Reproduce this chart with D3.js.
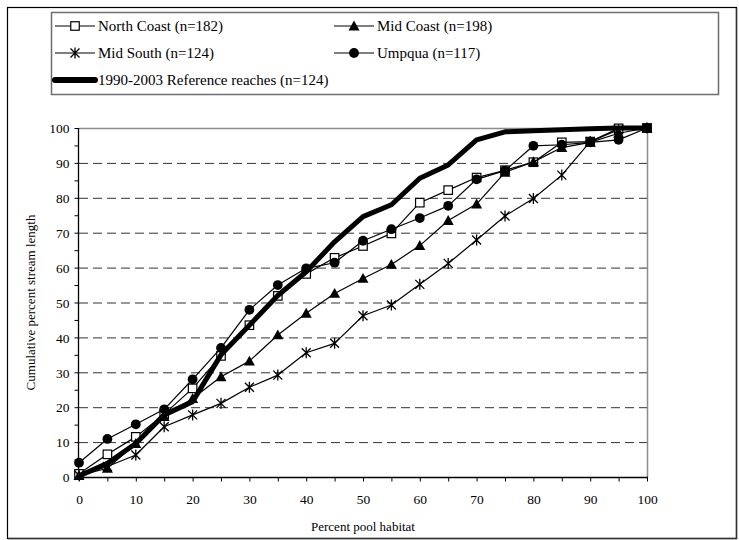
<!DOCTYPE html>
<html>
<head>
<meta charset="utf-8">
<script src="https://cdn.jsdelivr.net/npm/d3@7"></script>
<style>
  html, body { margin: 0; padding: 0; background: #fff; }
  svg { display: block; }
  svg text { font-family: "Liberation Serif", "Times New Roman", serif; fill: #000; }
</style>
</head>
<body>
<svg id="chart" width="739" height="540"></svg>
<script>
// Percent pool habitat (x) sampled every 5 %
const poolPct = [0, 5, 10, 15, 20, 25, 30, 35, 40, 45, 50, 55, 60, 65, 70, 75, 80, 85, 90, 95, 100];

// Cumulative percent stream length for each region
const northCoast = [0.9, 6.5, 11.5, 18, 25.4, 34.7, 43.5, 51.9, 58.2, 62.8, 66.2, 69.8, 78.6, 82.2, 85.8, 87.9, 90.2, 95.9, 96.1, 99.9, 100];
const midCoast   = [0.4, 2.5, 9.6, 17.3, 22.5, 28.7, 33.2, 40.7, 46.9, 52.6, 56.9, 60.9, 66.3, 73.5, 78.2, 87.3, 90.3, 94.4, 95.9, 98.5, 100];
const midSouth   = [0.5, 3, 6.3, 14.4, 17.8, 21.1, 25.7, 29.2, 35.6, 38.3, 46.2, 49.3, 55.2, 61.2, 67.9, 74.8, 79.8, 86.5, 96.1, 99.5, 100];
const umpqua     = [4.1, 10.9, 15.1, 19.4, 28, 37, 47.9, 55, 59.8, 61.4, 67.7, 71, 74.2, 77.7, 85.3, 87.8, 94.9, 95.2, 95.9, 96.6, 100];
const reference  = [0.3, 3.9, 9.6, 17.8, 21.6, 35, 43.5, 52, 58.8, 67.4, 74.6, 78, 85.6, 89.4, 96.6, 98.9, 99.2, 99.5, 99.8, 100, 100];

const seriesNames = ["North Coast (n=182)", "Mid Coast (n=198)", "Mid South (n=124)", "Umpqua (n=117)", "1990-2003 Reference reaches (n=124)"];
const seriesMarkers = ["square", "triangle", "asterisk", "circle", "none"];
const seriesValues = [northCoast, midCoast, midSouth, umpqua, reference];

const xTicks = [0, 10, 20, 30, 40, 50, 60, 70, 80, 90, 100];
const yTicks = [0, 10, 20, 30, 40, 50, 60, 70, 80, 90, 100];
const minorTicks = d3.range(0, 101, 5);

const SERIF = "'Liberation Serif', 'Times New Roman', serif";
const svg = d3.select("#chart");

// outer frame
svg.append("rect").attr("x", 7.5).attr("y", 7.5).attr("width", 729).attr("height", 531)
  .attr("fill", "#fff").attr("stroke", "#000").attr("stroke-width", 1.2);
svg.append("path").attr("d", "M736.5,8 V538.5 H8").attr("fill", "none").attr("stroke", "#333").attr("stroke-width", 1.5);

const plot = { left: 79, right: 647, top: 128, bottom: 477 };
const x = d3.scaleLinear().domain([0, 100]).range([plot.left, plot.right]);
const y = d3.scaleLinear().domain([0, 100]).range([plot.bottom, plot.top]);

// dashed gridlines
svg.append("g").selectAll("line").data(yTicks.filter(v => v > 0 && v < 100)).join("line")
  .attr("x1", plot.left).attr("x2", plot.right)
  .attr("y1", d => y(d) + 0.5).attr("y2", d => y(d) + 0.5)
  .attr("stroke", "#333").attr("stroke-width", 1).attr("stroke-dasharray", "9,5");

// top and right plot border
svg.append("path")
  .attr("d", `M${plot.left},${plot.top + 0.5} H${plot.right + 0.5} V${plot.bottom}`)
  .attr("fill", "none").attr("stroke", "#8c8c8c").attr("stroke-width", 1.5);

// axes
const xAxis = d3.axisBottom(x).tickValues(minorTicks).tickSize(4)
  .tickFormat(d => xTicks.includes(d) ? d : "");
const yAxis = d3.axisLeft(y).tickValues(minorTicks).tickSize(4)
  .tickFormat(d => yTicks.includes(d) ? d : "");

const gx = svg.append("g").attr("transform", `translate(0,${plot.bottom + 0.5})`).call(xAxis);
const gy = svg.append("g").attr("transform", `translate(${plot.left - 0.5},0)`).call(yAxis);
[gx, gy].forEach(g => {
  g.attr("font-family", SERIF);
  g.select(".domain").attr("stroke", "#000").attr("stroke-width", 1.3);
  g.selectAll(".tick line").attr("stroke", "#000").attr("stroke-width", 1);
  g.selectAll(".tick text").attr("fill", "#000").attr("font-family", SERIF)
    .style("font-family", SERIF).style("font-size", "13.5px");
});
gx.select(".domain").attr("d", `M${plot.left},0H${plot.right + 1}`);
gy.select(".domain").attr("d", `M0,${plot.bottom}V${plot.top}`);
gx.selectAll(".tick text").attr("dy", "0").attr("y", 26);
gy.selectAll(".tick text").attr("x", -9).attr("dy", "0.35em");

// axis titles
svg.append("text").attr("x", (plot.left + plot.right) / 2).attr("y", 531)
  .attr("text-anchor", "middle").style("font-family", SERIF).style("font-size", "13px").text("Percent pool habitat");
svg.append("text").attr("transform", `translate(35,${(plot.top + plot.bottom) / 2}) rotate(-90)`)
  .attr("text-anchor", "middle").style("font-family", SERIF).style("font-size", "13px").text("Cumulative percent stream length");

// marker drawing
function drawMarker(g, type, cx, cy) {
  if (type === "square") {
    const s = 8.5;
    g.append("rect").attr("x", cx - s / 2).attr("y", cy - s / 2).attr("width", s).attr("height", s)
      .attr("fill", "#fff").attr("stroke", "#000").attr("stroke-width", 1.2);
  } else if (type === "triangle") {
    const s = 5.5;
    g.append("path").attr("d", `M${cx},${cy - s} L${cx + s},${cy + s * 0.8} L${cx - s},${cy + s * 0.8} Z`)
      .attr("fill", "#000");
  } else if (type === "circle") {
    g.append("circle").attr("cx", cx).attr("cy", cy).attr("r", 4.9).attr("fill", "#000");
  } else if (type === "asterisk") {
    const s = 4.5;
    g.append("path")
      .attr("d", `M${cx - s},${cy - s} L${cx + s},${cy + s} M${cx - s},${cy + s} L${cx + s},${cy - s} M${cx},${cy - s - 1} V${cy + s + 1}`)
      .attr("stroke", "#000").attr("stroke-width", 1.3).attr("fill", "none");
  }
}

// series lines and markers
const line = d3.line().x((d, i) => x(poolPct[i])).y(d => y(d));
seriesValues.forEach((vals, si) => {
  const g = svg.append("g");
  const thick = seriesMarkers[si] === "none";
  g.append("path").datum(vals).attr("d", line)
    .attr("fill", "none").attr("stroke", "#000")
    .attr("stroke-width", thick ? 5 : 1.2).attr("stroke-linejoin", "round");
  if (!thick) vals.forEach((v, i) => drawMarker(g, seriesMarkers[si], x(poolPct[i]), y(v)));
});

// legend
const legend = svg.append("g");
legend.append("rect").attr("x", 51.5).attr("y", 12.5).attr("width", 667).attr("height", 82)
  .attr("fill", "#fff").attr("stroke", "#6e6e6e").attr("stroke-width", 1.5);
const legendPos = [[55, 26], [334, 26], [55, 53], [334, 53], [55, 80]];
seriesNames.forEach((name, i) => {
  const [lx, ly] = legendPos[i];
  const thick = seriesMarkers[i] === "none";
  legend.append("line").attr("x1", lx).attr("x2", lx + 40).attr("y1", ly).attr("y2", ly)
    .attr("stroke", "#000").attr("stroke-width", thick ? 6 : 1.2).attr("stroke-linecap", thick ? "round" : "butt");
  if (!thick) drawMarker(legend, seriesMarkers[i], lx + 20, ly);
  legend.append("text").attr("x", lx + 43).attr("y", ly).attr("dy", "0.35em")
    .style("font-family", SERIF).style("font-size", "15px").text(name);
});
</script>
</body>
</html>
